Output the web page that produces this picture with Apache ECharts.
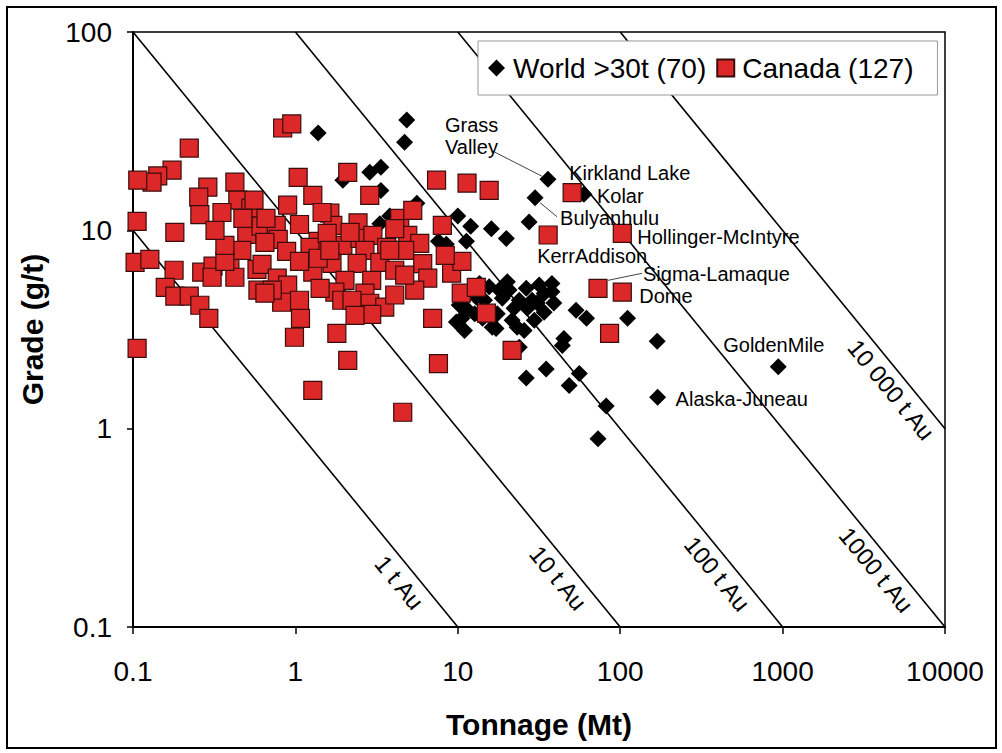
<!DOCTYPE html>
<html>
<head>
<meta charset="utf-8">
<script src="https://cdn.jsdelivr.net/npm/echarts@6.0.0/dist/echarts.min.js"></script>
<style>
html,body{margin:0;padding:0;background:#fff;}
#chart{width:1002px;height:753px;}
</style>
</head>
<body>
<div id="chart"></div>
<script>
// ---------------- DATA ----------------
const worldTonnage = [1.38,4.85,4.7,1.96,2.87,3.36,3.36,5.6,3.81,3.31,
  27.5,10.0,12.0,16.1,19.9,11.3,7.6,8.5,20.2,38,
  34,18,20.7,38,39,28.7,30.8,29.6,25.6,22.2,
  21.6,17.2,10.6,11.4,13.0,15.6,16.3,10.2,53.5,62,
  111,169,82,73,56,48.5,35,26.4,45,44,
  23.9,14.6,18.8,23.2,26.4,31.7,9.8,14.2,34,23.9,
  12.7,26.8,13.6,17.5,11];
const worldGrade = [31,36,27.8,17.9,19.6,20.8,15.9,13.7,11.8,10.8,
  11.0,11.8,10.5,10.2,9.1,8.8,8.8,8.5,5.5,5.4,
  4.8,5.0,5.0,4.9,4.3,4.44,4.3,3.52,3.13,4.05,
  3.52,3.2,3.6,4.0,4.6,5.2,3.25,4.2,3.95,3.6,
  3.6,2.76,1.3,0.89,1.9,1.65,2.0,1.8,2.85,2.63,
  2.57,4.44,4.55,3.25,5.1,5.3,3.45,3.6,3.86,4.44,
  3.8,4.05,5.4,3.8,3.13];
const worldNamed = ['Grass\nValley','Bulyanhulu','Kolar','GoldenMile','Alaska-Juneau'];
const worldNamedTonnage = [35.9,29.9,59.8,940,170];
const worldNamedGrade = [18.1,14.6,15.2,2.05,1.44];

const canadaTonnage = [0.222,0.835,0.95,0.174,0.142,0.131,0.107,0.289,0.254,0.258,
  0.424,0.442,0.353,0.532,0.556,0.896,1.04,0.106,0.181,0.502,
  0.614,0.762,0.784,0.883,1.28,1.38,0.103,0.127,0.179,0.265,
  0.311,0.307,0.395,0.424,0.468,0.58,0.623,0.773,0.896,0.823,
  0.588,0.72,0.158,0.181,0.222,0.258,0.293,1.075,0.106,1.28,
  0.987,1.28,2.1,2.87,1.63,1.7,2.43,1.96,2.5,3.0,
  2.68,3.65,4.39,5.28,4.92,5.83,4.71,6.08,6.53,8.03,
  7.4,11.4,15.6,1.68,2.4,2.02,2.95,1.75,1.93,2.68,
  2.87,3.55,2.95,7.0,9.16,10.6,10.5,13.0,15.0,1.8,
  2.1,4.58,7.6,86,21.6,0.475,0.659,0.649,0.368,1.23,
  1.57,1.46,2.17,4.09,3.31,4.09,5.43,4.09,2.23,2.33,
  1.42,1.06,0.368,0.32,1.06,1.38,4.71,8.37,3.81,1.63,
  1.06,0.649];
const canadaGrade = [26,32.8,34.4,20.1,18.8,17.5,17.9,16.5,14.7,12.0,
  17.5,14.2,12.3,12.95,14.2,13.4,18.5,11.1,9.77,9.55,
  10.5,10.6,9.0,7.84,15.0,8.8,6.9,7.14,6.29,6.15,
  6.6,5.8,6.98,5.8,7.93,6.36,6.74,5.74,5.29,4.34,
  4.99,4.99,5.16,4.66,4.66,4.19,3.6,3.6,2.54,6.15,
  2.89,1.56,19.6,15.0,12.2,10.6,10.9,8.4,9.1,9.44,
  7.93,8.2,11.5,12.6,9.44,8.6,7.93,6.8,5.74,10.6,
  17.9,17.3,15.9,6.82,6.82,5.6,5.6,4.88,4.44,4.82,
  4.29,4.1,3.77,3.6,6.08,6.98,4.82,5.16,3.82,3.02,
  2.21,1.21,2.13,3.02,2.48,11.5,11.5,8.7,6.98,8.2,
  9.66,12.3,9.77,10.2,6.9,6.29,4.99,4.72,4.44,3.73,
  5.1,4.44,8.4,10,6.98,7.23,5.94,7.48,7.93,7.93,
  10.7,4.82];
const canadaNamed = ['Kirkland Lake','Hollinger-McIntyre','KerrAddison','Sigma-Lamaque','Dome'];
const canadaNamedTonnage = [50.6,103,36,73,103];
const canadaNamedGrade = [15.5,9.66,9.47,5.1,4.88];

const contourTonnesAu = [1,10,100,1000,10000];
const contourLabels = ['1 t Au','10 t Au','100 t Au','1000 t Au','10 000 t Au'];
const xTickValues = [0.1,1,10,100,1000,10000];
const yTickValues = [0.1,1,10,100];
const legendNames = ['World >30t (70)','Canada (127)'];
const axisTitles = ['Tonnage (Mt)','Grade (g/t)'];

// ---------------- LAYOUT / STYLE ----------------
const FONT = '"Liberation Sans", Arial, Helvetica, sans-serif';
const contourLabelAnchorGrade = [0.19,0.2,0.21,0.22,1.78];
const contourLabelGap = 17;
const annotationLayout = {
  'Grass\nValley': {dx:-103, dy:-43, leader:[-6,-3,-53,-27]},
  'Bulyanhulu': {dx:25, dy:20, leader:[5,5,22,19]},
  'Kolar': {dx:13, dy:2},
  'GoldenMile': {dx:-55, dy:-22},
  'Alaska-Juneau': {dx:18, dy:2},
  'Kirkland Lake': {dx:-3, dy:-20},
  'Hollinger-McIntyre': {dx:15, dy:4},
  'KerrAddison': {dx:-11, dy:21},
  'Sigma-Lamaque': {dx:45, dy:-14, leader:[10,-8,44,-15]},
  'Dome': {dx:17, dy:4}
};

const X_MIN = xTickValues[0], X_MAX = xTickValues[xTickValues.length-1];
const Y_MIN = yTickValues[0], Y_MAX = yTickValues[yTickValues.length-1];

function pairs(xs, ys){ return xs.map((x,i)=>[x, ys[i]]); }
function contourSegment(t){
  const x1 = Math.max(X_MIN, t / Y_MAX), y1 = t / x1;
  const x2 = Math.min(X_MAX, t / Y_MIN), y2 = t / x2;
  return [[x1,y1],[x2,y2]];
}
function fmt(v){ return String(+Number(v).toPrecision(6)); }

const chart = echarts.init(document.getElementById('chart'), null, {renderer:'svg', width:1002, height:753});

const series = [];
contourTonnesAu.forEach((t,i)=>{
  series.push({
    type:'line', name:contourLabels[i], data:contourSegment(t),
    showSymbol:false, symbol:'none', silent:true, z:1,
    lineStyle:{color:'#000', width:1.6}
  });
});
series.push({
  type:'scatter', name:legendNames[0], z:3,
  data: pairs(worldTonnage, worldGrade).concat(pairs(worldNamedTonnage, worldNamedGrade)),
  symbol:'diamond', symbolSize:17,
  itemStyle:{color:'#000', opacity:1}
});
series.push({
  type:'scatter', name:legendNames[1], z:4,
  data: pairs(canadaTonnage, canadaGrade).concat(pairs(canadaNamedTonnage, canadaNamedGrade)),
  symbol:'rect', symbolSize:18,
  itemStyle:{color:'#dc2828', borderColor:'#3a0c0c', borderWidth:1.2, opacity:1}
});

chart.setOption({
  animation:false,
  backgroundColor:'#fff',
  textStyle:{fontFamily:FONT},
  grid:{left:133, right:57, top:32, bottom:126, show:true, borderColor:'#000', borderWidth:1.5, backgroundColor:'transparent', outerBoundsMode:'none', containLabel:false},
  legend:{
    data:legendNames, left:478, top:41, orient:'horizontal',
    padding:[13,24,13,10], itemGap:10, itemWidth:17, itemHeight:17,
    backgroundColor:'#fff', borderColor:'#999', borderWidth:1, borderRadius:0,
    textStyle:{fontSize:28, color:'#000', fontFamily:FONT, padding:[0,0,0,3]},
    selectedMode:false
  },
  xAxis:{
    type:'log', logBase:10, min:X_MIN, max:X_MAX,
    name:axisTitles[0], nameLocation:'middle', nameGap:82,
    nameTextStyle:{fontSize:30, fontWeight:'bold', color:'#000', fontFamily:FONT},
    axisLine:{show:true, onZero:false, lineStyle:{color:'#000', width:2}},
    axisTick:{show:true, inside:false, length:7, lineStyle:{color:'#000', width:1.5}},
    minorTick:{show:false},
    axisLabel:{fontSize:28, color:'#000', margin:30, formatter:fmt, fontFamily:FONT},
    splitLine:{show:false}
  },
  yAxis:{
    type:'log', logBase:10, min:Y_MIN, max:Y_MAX,
    name:axisTitles[1], nameLocation:'middle', nameGap:86, nameRotate:90,
    nameTextStyle:{fontSize:30, fontWeight:'bold', color:'#000', fontFamily:FONT},
    axisLine:{show:true, onZero:false, lineStyle:{color:'#000', width:2}},
    axisTick:{show:true, inside:false, length:6, lineStyle:{color:'#000', width:1.5}},
    minorTick:{show:false},
    axisLabel:{fontSize:28, color:'#000', margin:21, formatter:fmt, fontFamily:FONT},
    splitLine:{show:false}
  },
  series: series
});

// ---------------- ANNOTATIONS (positioned through the chart's own scales) ----------------
function toPx(p){ return chart.convertToPixel({gridIndex:0}, p); }
const graphics = [];
graphics.push({type:'rect', shape:{x:7, y:7, width:989, height:741}, style:{fill:null, stroke:'#000', lineWidth:2}, silent:true, z:100});

contourTonnesAu.forEach((t,i)=>{
  const g = contourLabelAnchorGrade[i];
  const p = toPx([t/g, g]);
  const q = toPx([t/(g*2), g*2]);
  let dx = p[0]-q[0], dy = p[1]-q[1];
  const len = Math.hypot(dx,dy); dx/=len; dy/=len;
  const ang = Math.atan2(dy, dx);
  const nx = -dy, ny = dx;
  graphics.push({
    type:'text', x:p[0]+nx*contourLabelGap, y:p[1]+ny*contourLabelGap, rotation:-ang, silent:true, z:50,
    style:{text:contourLabels[i], fill:'#000', font:'24px ' + FONT, textAlign:'center', textVerticalAlign:'middle'}
  });
});

function addNamed(names, xs, ys){
  names.forEach((n,i)=>{
    const p = toPx([xs[i], ys[i]]);
    const L = annotationLayout[n];
    graphics.push({
      type:'text', x:p[0]+L.dx, y:p[1]+L.dy, silent:true, z:60,
      style:{text:n, fill:'#000', font:'20px ' + FONT, textAlign:'left', textVerticalAlign:'middle', lineHeight:22}
    });
    if (L.leader){
      graphics.push({
        type:'line', silent:true, z:55,
        shape:{x1:p[0]+L.leader[0], y1:p[1]+L.leader[1], x2:p[0]+L.leader[2], y2:p[1]+L.leader[3]},
        style:{stroke:'#444', lineWidth:1}
      });
    }
  });
}
addNamed(worldNamed, worldNamedTonnage, worldNamedGrade);
addNamed(canadaNamed, canadaNamedTonnage, canadaNamedGrade);

chart.setOption({graphic:graphics});
</script>
</body>
</html>
